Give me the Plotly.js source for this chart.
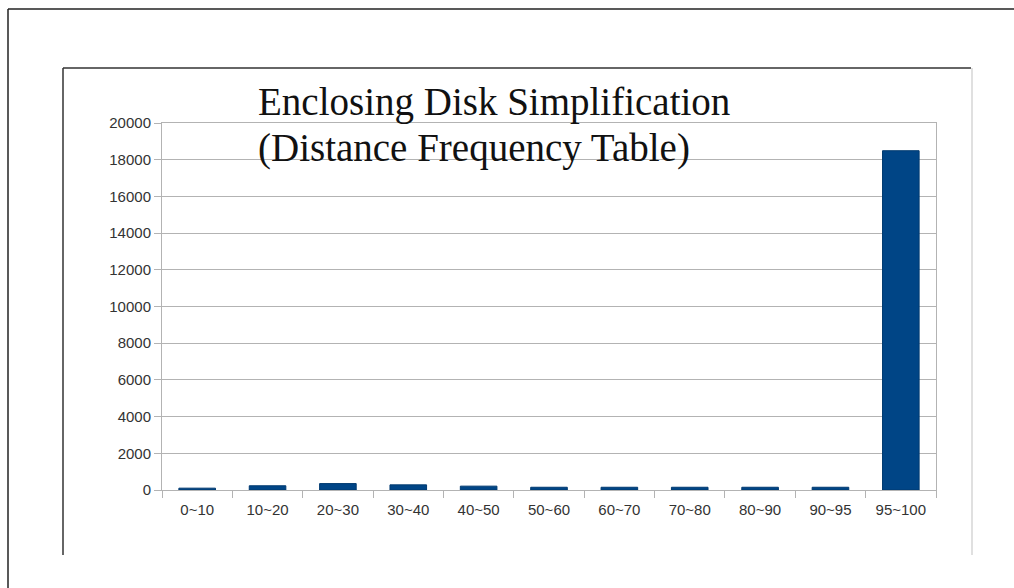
<!DOCTYPE html>
<html>
<head>
<meta charset="utf-8">
<script src="https://cdn.plot.ly/plotly-3.0.1.min.js"></script>
<style>html,body{margin:0;padding:0;background:#fff;}#chart{width:1014px;height:588px;}</style>
</head>
<body>
<div id="chart"></div>
<script>
const categories = ["0~10","10~20","20~30","30~40","40~50","50~60","60~70","70~80","80~90","90~95","95~100"];
const frequencies = [100, 230, 350, 280, 210, 150, 150, 150, 150, 150, 18490];
const yTickValues = [0,2000,4000,6000,8000,10000,12000,14000,16000,18000,20000];
const titleLines = ["Enclosing Disk Simplification", "(Distance Frequency Table)"];

const W = 1014, H = 588;
const M = {l: 162, r: 78, t: 123, b: 98};
const pw = W - M.l - M.r, ph = H - M.t - M.b;
const px = x => (x - M.l) / pw;
const py = y => (H - M.b - y) / ph;

function seg(x0, y0, x1, y1, color, width) {
  return {type: 'line', xref: 'paper', yref: 'paper',
    x0: px(x0), y0: py(y0), x1: px(x1), y1: py(y1),
    line: {color: color, width: width}, layer: 'above'};
}

function titleLine(text, yCenter) {
  return {text: text, xref: 'paper', yref: 'paper',
    x: px(257), xanchor: 'left', y: py(yCenter), yanchor: 'middle',
    showarrow: false, borderpad: 0,
    font: {family: 'Liberation Serif, Times New Roman, serif', size: 39, color: '#111111'}};
}

const trace = {
  type: 'bar',
  x: categories,
  y: frequencies,
  marker: {color: '#004586', line: {color: '#003a70', width: 1}},
  hoverinfo: 'x+y'
};

const layout = {
  width: W, height: H,
  margin: M,
  paper_bgcolor: '#ffffff',
  plot_bgcolor: '#ffffff',
  bargap: 0.48,
  showlegend: false,
  font: {family: 'Liberation Sans, Arial, sans-serif', size: 15, color: '#333333'},
  xaxis: {
    type: 'category',
    showline: true, linecolor: '#b3b3b3', linewidth: 1,
    mirror: true,
    ticks: 'outside', ticklen: 7, tickcolor: '#b3b3b3', tickwidth: 1,
    tickson: 'boundaries',
    ticklabelstandoff: 6,
    showgrid: false,
    tickfont: {size: 15, color: '#333333'},
    automargin: false
  },
  yaxis: {
    range: [0, 20000],
    tickvals: yTickValues,
    ticktext: yTickValues.map(String),
    showline: true, linecolor: '#b3b3b3', linewidth: 1,
    mirror: true,
    ticks: 'outside', ticklen: 7, tickcolor: '#b3b3b3', tickwidth: 1,
    showgrid: true, gridcolor: '#b3b3b3', gridwidth: 1,
    zeroline: false,
    tickfont: {size: 15, color: '#333333'},
    automargin: false
  },
  annotations: [
    titleLine(titleLines[0], 102),
    titleLine(titleLines[1], 148)
  ],
  shapes: [
    seg(8, 9, 1014, 9, '#222222', 1.5),
    seg(8, 9, 8, 588, '#222222', 1.5),
    seg(63, 68, 971, 68, '#333333', 1.5),
    seg(63, 68, 63, 555, '#333333', 1.5),
    seg(972, 68, 972, 555, '#d6d6d6', 1.5)
  ]
};

Plotly.newPlot('chart', [trace], layout, {displayModeBar: false, staticPlot: true});
</script>
</body>
</html>
